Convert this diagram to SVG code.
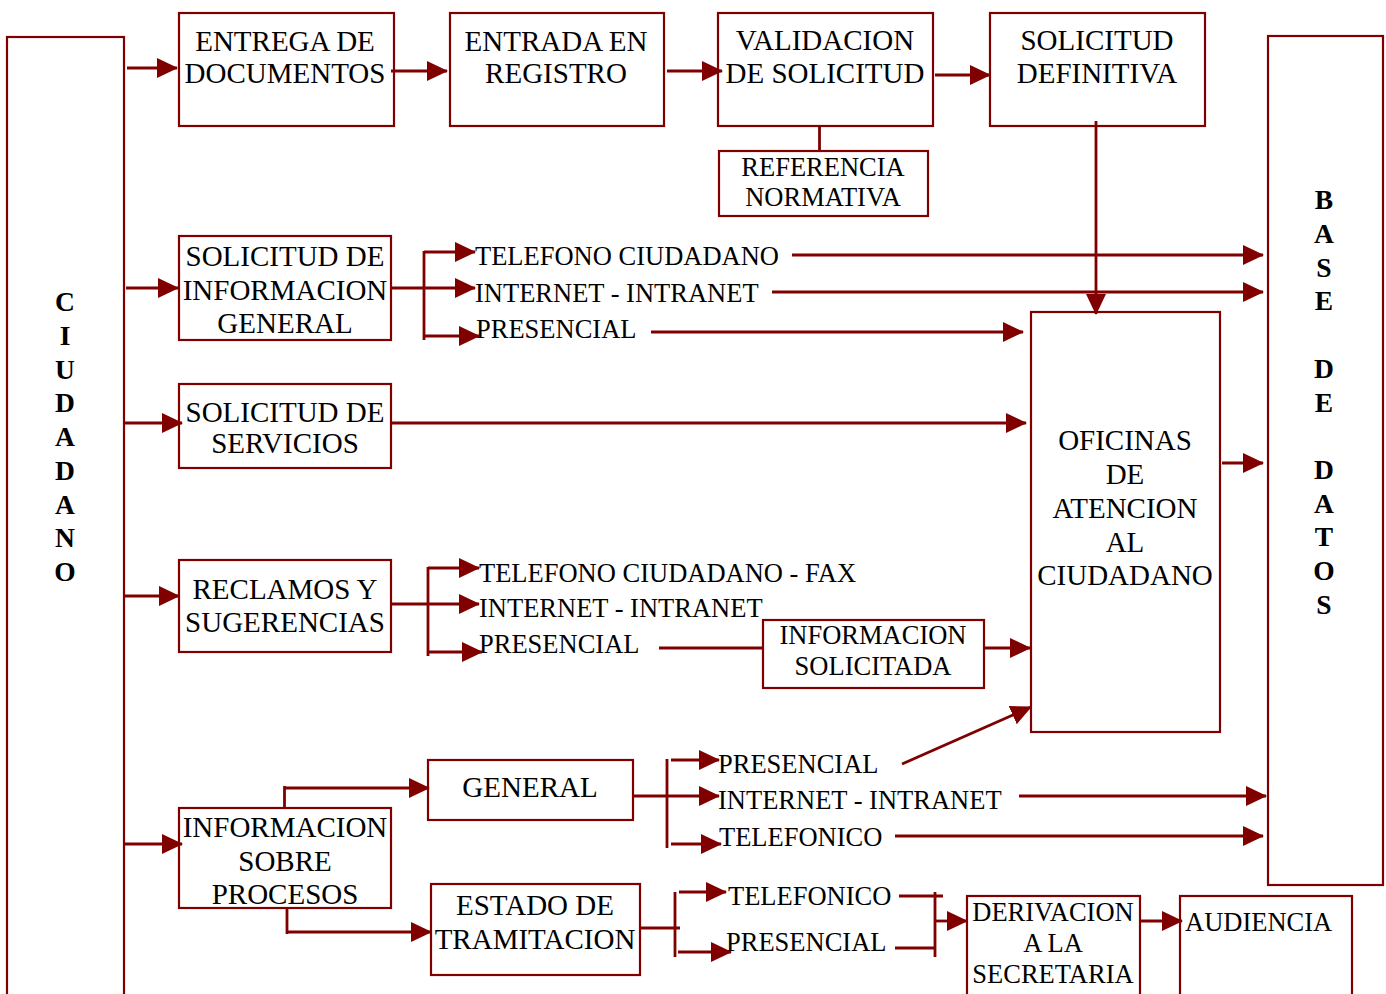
<svg xmlns="http://www.w3.org/2000/svg" width="1386" height="994" viewBox="0 0 1386 994">
<style>
.box{fill:none;stroke:#800000;stroke-width:2.2}
.ln{fill:none;stroke:#800000;stroke-width:2.8}
.ar{marker-end:url(#ah)}
.t{font-family:"Liberation Serif","Times New Roman",serif;font-size:29px;fill:#000}
.c{text-anchor:middle}
.s{font-size:26.5px}
.b{font-weight:bold;font-size:27.5px}
</style>
<defs>
<marker id="ah" markerUnits="userSpaceOnUse" markerWidth="21" markerHeight="20" refX="20" refY="10" orient="auto">
<path d="M0,0 L21,10 L0,20 Z" fill="#800000"/>
</marker>
</defs>
<rect width="1386" height="994" fill="#fff"/>

<g id="ciudadano">
<rect class="box" x="7" y="37" width="117" height="980"/>
<text class="t c b" x="65"><tspan x="65" y="311">C</tspan><tspan x="65" y="345">I</tspan><tspan x="65" y="378.5">U</tspan><tspan x="65" y="412">D</tspan><tspan x="65" y="446">A</tspan><tspan x="65" y="480">D</tspan><tspan x="65" y="513.5">A</tspan><tspan x="65" y="547">N</tspan><tspan x="65" y="581">O</tspan></text>
</g>
<g id="entrega">
<rect class="box" x="179" y="13" width="215" height="113"/>
<text class="t c"><tspan x="285" y="51">ENTREGA DE</tspan><tspan x="285" y="83">DOCUMENTOS</tspan></text>
</g>
<g id="entrada">
<rect class="box" x="450" y="13" width="214" height="113"/>
<text class="t c"><tspan x="556" y="51">ENTRADA EN</tspan><tspan x="556" y="83">REGISTRO</tspan></text>
</g>
<g id="validacion">
<rect class="box" x="718" y="13" width="215" height="113"/>
<text class="t c"><tspan x="825" y="50">VALIDACION</tspan><tspan x="825" y="83">DE SOLICITUD</tspan></text>
</g>
<g id="definitiva">
<rect class="box" x="990" y="13" width="215" height="113"/>
<text class="t c"><tspan x="1097" y="50">SOLICITUD</tspan><tspan x="1097" y="83">DEFINITIVA</tspan></text>
</g>
<g id="referencia">
<rect class="box" x="719" y="151" width="209" height="65"/>
<text class="t c s"><tspan x="823" y="176">REFERENCIA</tspan><tspan x="823" y="206">NORMATIVA</tspan></text>
</g>
<g id="info_general">
<rect class="box" x="179" y="236" width="212" height="104"/>
<text class="t c"><tspan x="285" y="266">SOLICITUD DE</tspan><tspan x="285" y="300">INFORMACION</tspan><tspan x="285" y="333">GENERAL</tspan></text>
</g>
<g id="servicios">
<rect class="box" x="179" y="384" width="212" height="84"/>
<text class="t c"><tspan x="285" y="422">SOLICITUD DE</tspan><tspan x="285" y="453">SERVICIOS</tspan></text>
</g>
<g id="reclamos">
<rect class="box" x="179" y="560" width="212" height="92"/>
<text class="t c"><tspan x="285" y="599">RECLAMOS Y</tspan><tspan x="285" y="632">SUGERENCIAS</tspan></text>
</g>
<g id="info_procesos">
<rect class="box" x="179" y="808" width="212" height="100"/>
<text class="t c"><tspan x="285" y="837">INFORMACION</tspan><tspan x="285" y="871">SOBRE</tspan><tspan x="285" y="904">PROCESOS</tspan></text>
</g>
<g id="general">
<rect class="box" x="428" y="760" width="205" height="60"/>
<text class="t c" x="530" y="797">GENERAL</text>
</g>
<g id="estado">
<rect class="box" x="431" y="884" width="209" height="91"/>
<text class="t c"><tspan x="535" y="915">ESTADO DE</tspan><tspan x="535" y="949">TRAMITACION</tspan></text>
</g>
<g id="info_solicitada">
<rect class="box" x="763" y="620" width="221" height="68"/>
<text class="t c s"><tspan x="873" y="644">INFORMACION</tspan><tspan x="873" y="675">SOLICITADA</tspan></text>
</g>
<g id="oficinas">
<rect class="box" x="1031" y="312" width="189" height="420"/>
<text class="t c"><tspan x="1125" y="450">OFICINAS</tspan><tspan x="1125" y="484">DE</tspan><tspan x="1125" y="518">ATENCION</tspan><tspan x="1125" y="552">AL</tspan><tspan x="1125" y="585">CIUDADANO</tspan></text>
</g>
<g id="base_datos">
<rect class="box" x="1268" y="36" width="115" height="849"/>
<text class="t c b"><tspan x="1324" y="209">B</tspan><tspan x="1324" y="242.5">A</tspan><tspan x="1324" y="276.5">S</tspan><tspan x="1324" y="310">E</tspan><tspan x="1324" y="378">D</tspan><tspan x="1324" y="411.5">E</tspan><tspan x="1324" y="479">D</tspan><tspan x="1324" y="512.5">A</tspan><tspan x="1324" y="546">T</tspan><tspan x="1324" y="580">O</tspan><tspan x="1324" y="614">S</tspan></text>
</g>
<g id="derivacion">
<rect class="box" x="967" y="896" width="173" height="110"/>
<text class="t c s"><tspan x="1053" y="921">DERIVACION</tspan><tspan x="1053" y="952">A LA</tspan><tspan x="1053" y="983">SECRETARIA</tspan></text>
</g>
<g id="audiencia">
<rect class="box" x="1180" y="896" width="172" height="110"/>
<text class="t s" x="1185" y="931">AUDIENCIA</text>
</g>

<g id="labels" class="t s">
<text x="475" y="265">TELEFONO CIUDADANO</text>
<text x="475" y="302">INTERNET - INTRANET</text>
<text x="476" y="338">PRESENCIAL</text>
<text x="479" y="582">TELEFONO CIUDADANO - FAX</text>
<text x="479" y="617">INTERNET - INTRANET</text>
<text x="479" y="653">PRESENCIAL</text>
<text x="718" y="773">PRESENCIAL</text>
<text x="718" y="809">INTERNET - INTRANET</text>
<text x="719" y="846">TELEFONICO</text>
<text x="728" y="905">TELEFONICO</text>
<text x="726" y="951">PRESENCIAL</text>
</g>

<g id="connectors">
<line class="ln ar" x1="127" y1="68" x2="177" y2="68"/>
<line class="ln ar" x1="391" y1="71" x2="447" y2="71"/>
<line class="ln ar" x1="667" y1="71" x2="722" y2="71"/>
<line class="ln ar" x1="935" y1="75" x2="990" y2="75"/>
<line class="ln" x1="819.5" y1="126" x2="819.5" y2="151"/>
<line class="ln ar" x1="1096" y1="121" x2="1096" y2="314"/>

<line class="ln ar" x1="126" y1="288" x2="178" y2="288"/>
<line class="ln ar" x1="391" y1="288" x2="475" y2="288"/>
<line class="ln" x1="424" y1="251" x2="424" y2="340"/>
<line class="ln ar" x1="424" y1="252" x2="475" y2="252"/>
<line class="ln ar" x1="424" y1="336" x2="479" y2="336"/>
<line class="ln ar" x1="792" y1="255" x2="1263" y2="255"/>
<line class="ln ar" x1="772" y1="292" x2="1263" y2="292"/>
<line class="ln ar" x1="651" y1="332" x2="1023" y2="332"/>

<line class="ln ar" x1="124" y1="423" x2="182" y2="423"/>
<line class="ln ar" x1="392" y1="423" x2="1026" y2="423"/>

<line class="ln ar" x1="124" y1="596" x2="179" y2="596"/>
<line class="ln ar" x1="392" y1="604" x2="479" y2="604"/>
<line class="ln" x1="428" y1="567" x2="428" y2="656"/>
<line class="ln ar" x1="428" y1="568" x2="479" y2="568"/>
<line class="ln ar" x1="429" y1="652" x2="482" y2="652"/>
<line class="ln" x1="659" y1="648" x2="763" y2="648"/>
<line class="ln ar" x1="984" y1="648" x2="1030" y2="648"/>

<line class="ln ar" x1="1222" y1="463" x2="1263" y2="463"/>

<line class="ln ar" x1="124" y1="844" x2="182" y2="844"/>
<polyline class="ln" points="284.5,808 284.5,786"/>
<line class="ln ar" x1="284" y1="788" x2="429" y2="788"/>
<polyline class="ln" points="287,908 287,934"/>
<line class="ln ar" x1="287" y1="932" x2="431" y2="932"/>

<line class="ln ar" x1="633" y1="796" x2="719" y2="796"/>
<line class="ln" x1="667" y1="759" x2="667" y2="848"/>
<line class="ln ar" x1="671" y1="760" x2="719" y2="760"/>
<line class="ln ar" x1="671" y1="844" x2="721" y2="844"/>
<line class="ln ar" x1="902" y1="764" x2="1031" y2="707"/>
<line class="ln ar" x1="1019" y1="796" x2="1266" y2="796"/>
<line class="ln ar" x1="895" y1="836" x2="1263" y2="836"/>

<line class="ln" x1="641" y1="928" x2="680" y2="928"/>
<line class="ln" x1="675" y1="892" x2="675" y2="957"/>
<line class="ln ar" x1="679" y1="892" x2="726" y2="892"/>
<line class="ln ar" x1="678" y1="952" x2="731" y2="952"/>
<line class="ln" x1="899" y1="896" x2="943" y2="896"/>
<line class="ln" x1="895" y1="948" x2="935" y2="948"/>
<line class="ln" x1="935" y1="892" x2="935" y2="957"/>
<line class="ln ar" x1="935" y1="921" x2="967" y2="921"/>
<line class="ln ar" x1="1140" y1="921" x2="1182" y2="921"/>
</g>
</svg>
